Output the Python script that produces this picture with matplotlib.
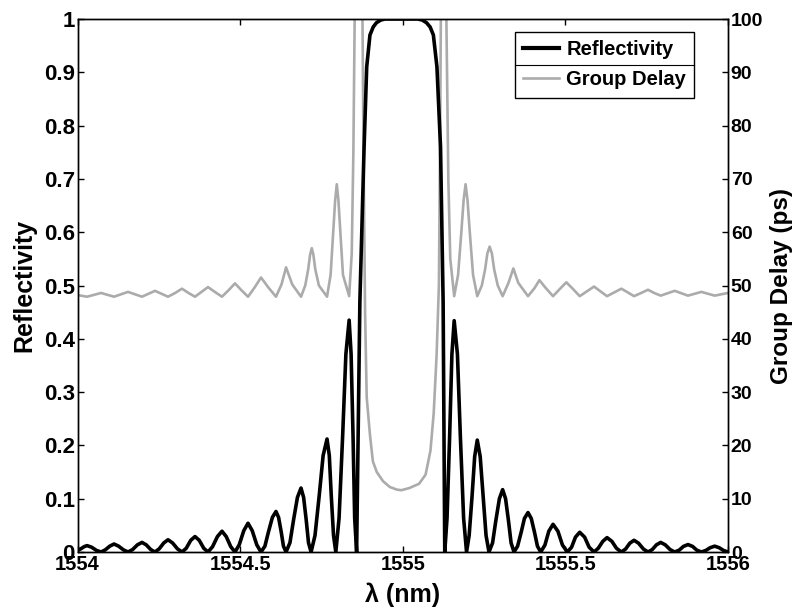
import matplotlib
matplotlib.use("Agg")
import matplotlib.pyplot as plt
from matplotlib.lines import Line2D

# --- Datos ---
# Reflectividad (eje izquierdo)
refl_wl = [
    1554.000, 1554.010, 1554.020, 1554.029, 1554.043, 1554.058,
    1554.072, 1554.085, 1554.099, 1554.112, 1554.126, 1554.141,
    1554.155, 1554.169, 1554.184, 1554.198, 1554.211, 1554.225,
    1554.238, 1554.251, 1554.265, 1554.278, 1554.292, 1554.307,
    1554.321, 1554.334, 1554.348, 1554.361, 1554.374, 1554.388,
    1554.401, 1554.415, 1554.430, 1554.444, 1554.457, 1554.471,
    1554.484, 1554.497, 1554.511, 1554.524, 1554.537, 1554.551,
    1554.564, 1554.576, 1554.587, 1554.599, 1554.610, 1554.618, 1554.626, 1554.633,
    1554.641, 1554.653, 1554.664, 1554.676, 1554.687, 1554.695, 1554.703, 1554.710,
    1554.718, 1554.730, 1554.743, 1554.755, 1554.767, 1554.774, 1554.780, 1554.787,
    1554.794, 1554.804, 1554.815, 1554.825, 1554.835, 1554.841, 1554.847, 1554.852,
    1554.858, 1554.868, 1554.881, 1554.889, 1554.899, 1554.909, 1554.919, 1554.932, 1554.945,
    1554.996, 1555.046, 1555.060, 1555.073, 1555.084, 1555.094, 1555.105, 1555.116, 1555.124,
    1555.129, 1555.136, 1555.144, 1555.151, 1555.158, 1555.168, 1555.177, 1555.187,
    1555.196, 1555.204, 1555.213, 1555.221, 1555.229, 1555.238, 1555.247, 1555.256,
    1555.265, 1555.276, 1555.286, 1555.297, 1555.307, 1555.316, 1555.325, 1555.333,
    1555.342, 1555.353, 1555.364, 1555.374, 1555.385, 1555.395, 1555.405, 1555.414,
    1555.424, 1555.437, 1555.449, 1555.462, 1555.477, 1555.491,
    1555.506, 1555.519, 1555.531, 1555.544, 1555.559, 1555.573,
    1555.588, 1555.601, 1555.615, 1555.628, 1555.643, 1555.657,
    1555.672, 1555.685, 1555.698, 1555.711, 1555.725, 1555.740,
    1555.754, 1555.767, 1555.780, 1555.793, 1555.807, 1555.822,
    1555.836, 1555.850, 1555.863, 1555.877, 1555.891, 1555.904,
    1555.918, 1555.932, 1555.945, 1555.959, 1555.973, 1555.986, 1556.000,
]
refl = [
    0.003, 0.006, 0.010, 0.012, 0.009, 0.003,
    0, 0.004, 0.011, 0.015, 0.011, 0.004,
    0, 0.0045, 0.0135, 0.018, 0.0135, 0.0045,
    0, 0.006, 0.017, 0.023, 0.017, 0.006,
    0, 0.007, 0.022, 0.029, 0.022, 0.007,
    0, 0.010, 0.029, 0.039, 0.029, 0.010,
    0, 0.0135, 0.040, 0.054, 0.040, 0.0135,
    0, 0.011, 0.038, 0.065, 0.076, 0.065, 0.038, 0.011,
    0, 0.0175, 0.060, 0.1025, 0.120, 0.1025, 0.060, 0.0175,
    0, 0.031, 0.106, 0.181, 0.212, 0.181, 0.106, 0.031,
    0, 0.0635, 0.2175, 0.3715, 0.435, 0.3715, 0.2175, 0.0635,
    0, 0.47, 0.76, 0.91, 0.97, 0.985, 0.993, 0.998, 1.0,
    1.0, 1.0, 0.998, 0.993, 0.985, 0.97, 0.91, 0.76, 0.47,
    0, 0.0635, 0.217, 0.371, 0.434, 0.371, 0.217, 0.0635,
    0, 0.031, 0.105, 0.179, 0.210, 0.179, 0.105, 0.031,
    0, 0.017, 0.0585, 0.100, 0.117, 0.100, 0.0585, 0.017,
    0, 0.011, 0.037, 0.063, 0.074, 0.063, 0.037, 0.011,
    0, 0.013, 0.039, 0.052, 0.039, 0.013,
    0, 0.009, 0.028, 0.037, 0.028, 0.009,
    0, 0.007, 0.020, 0.027, 0.020, 0.007,
    0, 0.0055, 0.0165, 0.022, 0.0165, 0.0055,
    0, 0.0045, 0.0135, 0.018, 0.0135, 0.0045,
    0, 0.0035, 0.0105, 0.014, 0.0105, 0.0035,
    0, 0.003, 0.008, 0.011, 0.008, 0.003, 0,
]

# Retardo de grupo en ps (eje derecho)
gd_wl = [
    1554.000, 1554.029, 1554.050, 1554.072, 1554.092, 1554.112, 1554.134, 1554.155,
    1554.177, 1554.198, 1554.218, 1554.238, 1554.258, 1554.278, 1554.300, 1554.321,
    1554.341, 1554.361, 1554.381, 1554.401, 1554.422, 1554.444, 1554.464, 1554.484,
    1554.504, 1554.524, 1554.544, 1554.564, 1554.587, 1554.610, 1554.627, 1554.641,
    1554.660, 1554.687, 1554.700, 1554.709, 1554.715, 1554.720, 1554.725, 1554.731,
    1554.742, 1554.767, 1554.778, 1554.786, 1554.792, 1554.797, 1554.802, 1554.808,
    1554.816, 1554.835,
    1554.843, 1554.848, 1554.852, 1554.856, 1554.872, 1554.876, 1554.880, 1554.884,
    1554.889, 1554.899, 1554.908, 1554.920, 1554.939, 1554.960, 1554.982, 1554.996,
    1555.020, 1555.050, 1555.070, 1555.085, 1555.095, 1555.104, 1555.111, 1555.115,
    1555.118, 1555.132, 1555.136, 1555.140, 1555.146, 1555.158, 1555.170, 1555.180,
    1555.187, 1555.193, 1555.199, 1555.206, 1555.216, 1555.229, 1555.243, 1555.253,
    1555.260, 1555.267, 1555.274, 1555.281, 1555.292, 1555.307, 1555.325, 1555.340,
    1555.355, 1555.385, 1555.405, 1555.420,
    1555.440, 1555.462, 1555.482, 1555.503, 1555.524, 1555.544, 1555.566, 1555.588,
    1555.608, 1555.628, 1555.650, 1555.672, 1555.692, 1555.711, 1555.733, 1555.754,
    1555.773, 1555.793, 1555.815, 1555.836, 1555.857, 1555.877, 1555.898, 1555.918,
    1555.938, 1555.959, 1555.980, 1556.000,
]
gd = [
    48.2, 47.9, 48.25, 48.6, 48.25, 47.9, 48.35, 48.8,
    48.35, 47.9, 48.45, 49.0, 48.45, 47.9, 48.6, 49.4,
    48.6, 47.9, 48.8, 49.7, 48.8, 47.9, 49.1, 50.4,
    49.1, 47.9, 49.6, 51.5, 49.6, 47.9, 50.2, 53.4,
    50.2, 47.9, 50.0, 53.0, 55.8, 57.0, 55.8, 53.0,
    50.0, 47.9, 52.0, 60.0, 66.0, 69.0, 66.0, 60.0,
    52.0, 48.0,
    56.0, 75.0, 100.0, 110.0, 110.0, 100.0, 70.0, 45.0,
    29.0, 22.0, 17.0, 15.0, 13.3, 12.2, 11.7, 11.6,
    12.0, 12.8, 14.5, 19.0, 26.0, 37.0, 50.0, 80.0,
    110.0, 110.0, 90.0, 70.0, 55.0, 48.0, 52.0, 60.0,
    66.0, 69.0, 66.0, 60.0, 52.0, 48.0, 50.0, 53.0,
    56.0, 57.3, 56.0, 53.0, 50.0, 48.0, 50.5, 53.2,
    50.5, 48.0, 49.5, 51.0,
    49.5, 48.0, 49.3, 50.6, 49.3, 48.0, 48.9, 49.8,
    48.9, 48.0, 48.7, 49.4, 48.7, 48.0, 48.6, 49.2,
    48.6, 48.1, 48.55, 49.0, 48.55, 48.1, 48.45, 48.8,
    48.45, 48.1, 48.35, 48.6,
]

x_ticks = [1554, 1554.5, 1555, 1555.5, 1556]
x_ticklabels = ["1554", "1554.5", "1555", "1555.5", "1556"]
r_ticks = [0, 0.1, 0.2, 0.3, 0.4, 0.5, 0.6, 0.7, 0.8, 0.9, 1]
r_ticklabels = ["0", "0.1", "0.2", "0.3", "0.4", "0.5", "0.6", "0.7", "0.8", "0.9", "1"]
gd_ticks = [0, 10, 20, 30, 40, 50, 60, 70, 80, 90, 100]

# --- Estilo ---
plt.rcParams["font.family"] = ["Liberation Sans", "DejaVu Sans"]
plt.rcParams["font.weight"] = "bold"
plt.rcParams["axes.linewidth"] = 1.0

GRIS = "#ababab"

fig = plt.figure(figsize=(8.0, 6.13), dpi=100)
ax = fig.add_axes([0.097, 0.0995, 0.813, 0.8695])
ax2 = ax.twinx()

# reflectividad encima del retardo
ax.set_zorder(ax2.get_zorder() + 1)
ax.patch.set_visible(False)

ax2.plot(gd_wl, gd, color=GRIS, linewidth=1.9)
ax.plot(refl_wl, refl, color="black", linewidth=2.6)

ax.set_xlim(1554, 1556)
ax.set_ylim(0, 1)
ax2.set_ylim(0, 100)

ax.set_xticks(x_ticks)
ax.set_xticklabels(x_ticklabels)
ax.set_yticks(r_ticks)
ax.set_yticklabels(r_ticklabels)
ax2.set_yticks(gd_ticks)

ax.tick_params(axis="both", direction="in", length=4, width=1, pad=2,
               top=True, right=False)
ax.tick_params(axis="x", labelsize=14.5)
ax.tick_params(axis="y", labelsize=16)
ax2.tick_params(axis="y", direction="in", length=4, width=1, labelsize=14, pad=2)

for t in ax.get_xticklabels() + ax.get_yticklabels() + ax2.get_yticklabels():
    t.set_fontweight("bold")

ax.set_xlabel("λ (nm)", fontsize=18, fontweight="bold", labelpad=6)
ax.set_ylabel("Reflectivity", fontsize=18, fontweight="bold", labelpad=5)
ax2.set_ylabel("Group Delay (ps)", fontsize=17.5, fontweight="bold", labelpad=5)

handles = [Line2D([], [], color="black", linewidth=3),
           Line2D([], [], color=GRIS, linewidth=1.9)]
leg = ax.legend(handles, ["Reflectivity", "Group Delay"], loc="upper right",
                bbox_to_anchor=(0.948, 0.975), borderaxespad=0, fontsize=14.5,
                handlelength=1.8, handletextpad=0.35, labelspacing=0.55,
                borderpad=0.4, fancybox=False, framealpha=1)
leg.get_frame().set_edgecolor("black")
leg.get_frame().set_linewidth(1.0)
for t in leg.get_texts():
    t.set_fontweight("bold")

# linea divisoria entre las dos entradas de la leyenda
fig.canvas.draw()
bb = leg.get_window_extent().transformed(ax.transAxes.inverted())
ymid = (bb.y0 + bb.y1) / 2
ax.add_line(Line2D([bb.x0, bb.x1], [ymid, ymid], transform=ax.transAxes,
                   color="black", linewidth=0.8, zorder=10, clip_on=False))

fig.savefig("out.png", dpi=100)
